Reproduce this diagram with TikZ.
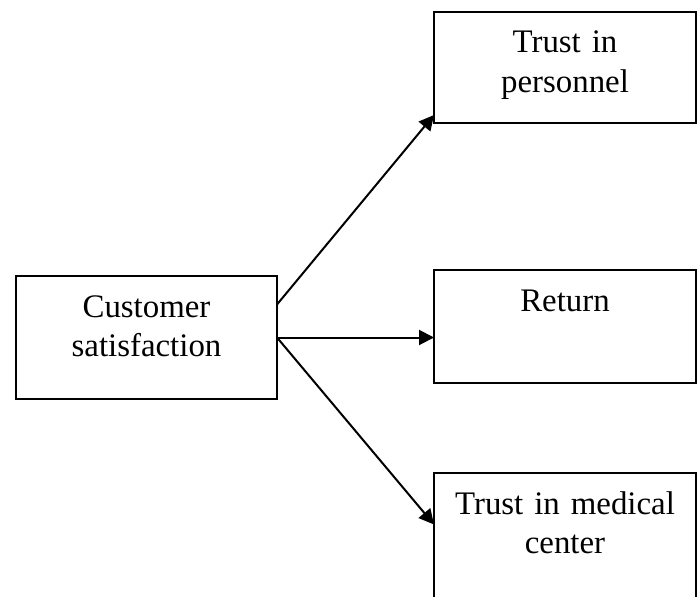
\documentclass[tikz,border=0pt]{standalone}
\usepackage{fontspec}
\setmainfont{Liberation Serif}
\usetikzlibrary{arrows.meta, positioning}

\begin{document}
\begin{tikzpicture}[x=0.5bp, y=-0.5bp,
    box/.style={draw, line width=1bp, inner sep=0pt, outer sep=0pt,
        anchor=north west, align=center, text width=131bp,
        text height=20.5bp, font=\fontsize{16.5}{20}\selectfont},
    arr/.style={line width=1bp, -{Triangle[length=7.5bp, width=7.5bp]}}]
    % ==========================================
    % AREA DEL DISEGNO (700 x 597 px)
    % ==========================================
    \useasboundingbox (0,0) rectangle (700,597);

    % ==========================================
    % BLOCCHI
    % ==========================================
    \node [box, text width=130.5bp, text depth=41bp] (cust) at (16,276)
        {Customer\\satisfaction};
    \node [box, text depth=35bp] (pers) at (434,12) {Trust in\\personnel};
    \node [box, text depth=36bp] (ret) at (434,270) {Return};
    \node [box, text depth=43bp] (med) at (434,473) {Trust in medical\\center};

    % ==========================================
    % FRECCE
    % ==========================================
    \draw [arr] ([yshift=16.5bp]cust.east) -- ([yshift=4bp]pers.south west);
    \draw [arr] (cust.east) -- (cust.east -| ret.west);
    \draw [arr] (cust.east) -- ([yshift=6bp]med.west);

\end{tikzpicture}
\end{document}
